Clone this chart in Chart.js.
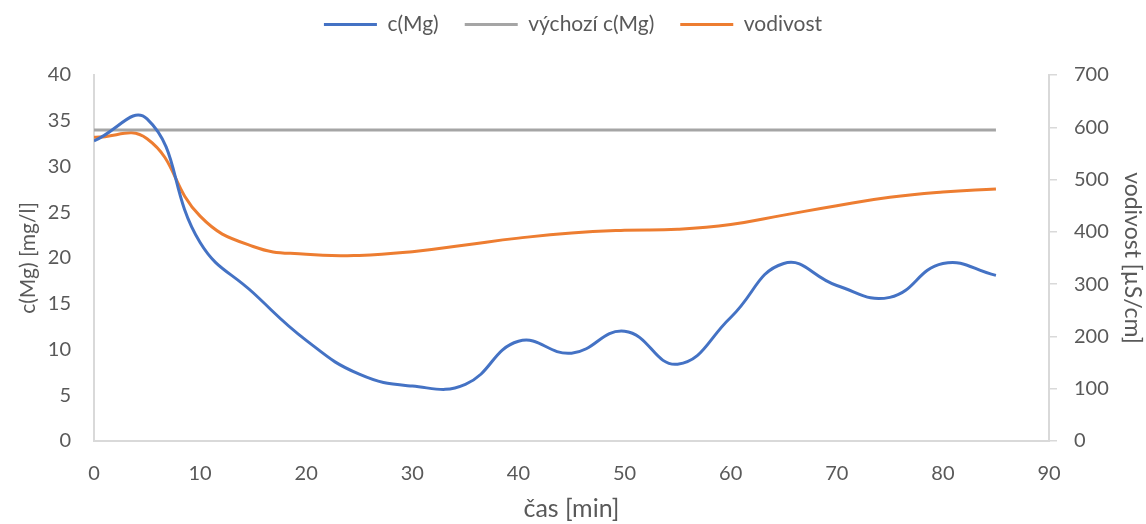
<!DOCTYPE html>
<html>
<head>
<meta charset="utf-8">
<script src="https://cdn.jsdelivr.net/npm/chart.js@4"></script>
<style>
  html, body { margin: 0; padding: 0; background: #fff; }
  #wrap { width: 1146px; height: 524px; }
</style>
</head>
<body>
<div id="wrap"><canvas id="chart"></canvas></div>
<script>
// casy mereni [min]
const casy = [0, 5, 10, 15, 20, 25, 30, 35, 40, 45, 50, 55, 60, 65, 70, 75, 80, 85];
// c(Mg) [mg/l]
const cMg = [32.8, 35.2, 21.7, 16.2, 11.0, 7.3, 6.0, 6.2, 10.9, 9.6, 12.0, 8.4, 13.5, 19.4, 17.0, 15.7, 19.4, 18.1];
// vychozi c(Mg) - konstanta
const vychoziCas = [0, 85];
const vychoziCMg = [34, 34];
// vodivost [uS/cm]
const vodivost = [581, 578, 430, 372, 357, 355, 362, 375, 388, 398, 403, 405, 414, 432, 450, 466, 476, 482];

const xTicks = [0, 10, 20, 30, 40, 50, 60, 70, 80, 90];
const yTicks = [0, 5, 10, 15, 20, 25, 30, 35, 40];
const y1Ticks = [0, 100, 200, 300, 400, 500, 600, 700];

const font = "Lato, 'Open Sans', sans-serif";
const textColor = '#595959';
const axisColor = '#d9d9d9';

const toPoints = (xs, ys) => xs.map((x, i) => ({ x, y: ys[i] }));

// legenda nahore, graf zacina az pod ni
const legendSpace = {
  id: 'legendSpace',
  beforeInit(chart) {
    const fit = chart.legend.fit;
    chart.legend.fit = function () {
      fit.call(this);
      this.height = 87;
    };
  }
};

new Chart(document.getElementById('chart'), {
  type: 'line',
  data: {
    datasets: [
      {
        label: 'c(Mg)',
        data: toPoints(casy, cMg),
        borderColor: '#4472C4',
        backgroundColor: '#4472C4',
        borderWidth: 3,
        pointRadius: 0,
        tension: 0.45,
        yAxisID: 'y'
      },
      {
        label: 'výchozí c(Mg)',
        data: toPoints(vychoziCas, vychoziCMg),
        borderColor: '#A5A5A5',
        backgroundColor: '#A5A5A5',
        borderWidth: 3,
        pointRadius: 0,
        yAxisID: 'y'
      },
      {
        label: 'vodivost',
        data: toPoints(casy, vodivost),
        borderColor: '#ED7D31',
        backgroundColor: '#ED7D31',
        borderWidth: 3,
        pointRadius: 0,
        tension: 0.45,
        yAxisID: 'y1'
      }
    ]
  },
  plugins: [legendSpace],
  options: {
    responsive: true,
    maintainAspectRatio: false,
    animation: false,
    layout: { padding: { top: -12, right: 0, bottom: 0, left: 0 } },
    plugins: {
      tooltip: { enabled: false },
      legend: {
        position: 'top',
        labels: {
          font: { family: font, size: 21 },
          color: textColor,
          boxWidth: 53,
          boxHeight: 3,
          padding: 26,
          generateLabels: (chart) => Chart.defaults.plugins.legend.labels.generateLabels(chart)
            .map(l => ({ ...l, lineWidth: 0 }))
        }
      }
    },
    scales: {
      x: {
        type: 'linear',
        min: 0,
        max: 90,
        afterBuildTicks: (axis) => { axis.ticks = xTicks.map(v => ({ value: v })); },
        afterFit: (axis) => { axis.height = 83; },
        grid: { display: false, drawTicks: false },
        border: { display: true, color: axisColor, width: 2 },
        ticks: { font: { family: font, size: 20 }, color: textColor, padding: 21, maxRotation: 0 },
        title: { display: true, text: 'čas [min]', font: { family: font, size: 25 }, color: textColor, padding: { top: 0, bottom: 0 } }
      },
      y: {
        position: 'left',
        min: 0,
        max: 40,
        afterBuildTicks: (axis) => { axis.ticks = yTicks.map(v => ({ value: v })); },
        afterFit: (axis) => { axis.width = 94; },
        grid: { display: false, drawTicks: false },
        border: { display: true, color: axisColor, width: 2 },
        ticks: { font: { family: font, size: 20 }, color: textColor, padding: 23 },
        title: { display: true, text: 'c(Mg) [mg/l]', font: { family: font, size: 21 }, color: textColor, padding: { top: 16, bottom: 0 } }
      },
      y1: {
        position: 'right',
        min: 0,
        max: 700,
        afterBuildTicks: (axis) => { axis.ticks = y1Ticks.map(v => ({ value: v })); },
        afterFit: (axis) => { axis.width = 97; },
        grid: { drawOnChartArea: false, drawTicks: true, tickLength: 8, color: axisColor, lineWidth: 1.5 },
        border: { display: true, color: axisColor, width: 2 },
        ticks: { font: { family: font, size: 20 }, color: textColor, padding: 17 },
        title: { display: true, text: 'vodivost [µS/cm]', font: { family: font, size: 23 }, color: textColor, padding: { top: 0, bottom: 0 } }
      }
    }
  }
});
</script>
</body>
</html>
